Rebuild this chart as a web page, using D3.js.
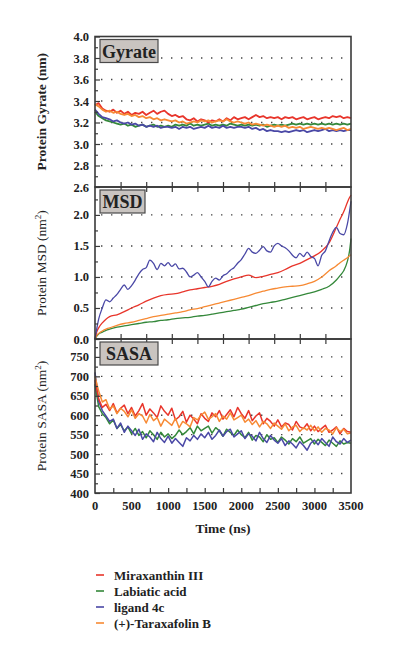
<!DOCTYPE html>
<html>
<head>
<meta charset="utf-8">
<script src="https://cdn.jsdelivr.net/npm/d3@7"></script>
<style>
  body { margin: 0; background: #fff; }
  svg text { font-family: "Liberation Serif", "DejaVu Serif", serif; fill: #222; }
</style>
</head>
<body>
<svg id="chart" width="395" height="660"></svg>
<script>
// time axis (ns), one point every 50 ns
var timeNs = [0,50,100,150,200,250,300,350,400,450,
  500,550,600,650,700,750,800,850,900,950,
  1000,1050,1100,1150,1200,1250,1300,1350,1400,1450,
  1500,1550,1600,1650,1700,1750,1800,1850,1900,1950,
  2000,2050,2100,2150,2200,2250,2300,2350,2400,2450,
  2500,2550,2600,2650,2700,2750,2800,2850,2900,2950,
  3000,3050,3100,3150,3200,3250,3300,3350,3400,3450,
  3500];
// sparser time axis for the smooth MSD curves
var msdTime = [0,20,50,100,150,200,300,400,500,600,700,800,900,1000,1100,1200,1300,1400,1500,
  1600,1700,1800,1900,2000,2100,2200,2300,2400,2500,2600,2700,2800,2900,3000,3100,3200,3300,
  3350,3400,3450,3480,3500];

var ligands = ["Miraxanthin III", "Labiatic acid", "ligand 4c", "(+)-Taraxafolin B"];
var colors = ["#e8352b", "#34883a", "#4a48a6", "#f78a34"];

// radius of gyration (nm)
var gyrRed = [3.36,3.38,3.33,3.31,3.30,3.32,3.29,3.31,3.28,3.30,
  3.27,3.29,3.28,3.30,3.27,3.29,3.31,3.28,3.30,3.31,
  3.28,3.26,3.27,3.25,3.26,3.23,3.22,3.24,3.21,3.23,
  3.22,3.20,3.22,3.21,3.23,3.21,3.24,3.22,3.25,3.23,
  3.24,3.25,3.23,3.25,3.27,3.25,3.26,3.24,3.25,3.24,
  3.25,3.23,3.25,3.24,3.25,3.23,3.24,3.25,3.23,3.24,
  3.25,3.23,3.24,3.25,3.24,3.26,3.25,3.26,3.24,3.25,
  3.24];
var gyrGreen = [3.30,3.26,3.24,3.22,3.21,3.20,3.19,3.18,3.19,3.17,
  3.18,3.16,3.17,3.18,3.16,3.17,3.18,3.16,3.17,3.16,
  3.17,3.16,3.18,3.17,3.18,3.17,3.19,3.17,3.18,3.17,
  3.18,3.19,3.17,3.18,3.17,3.18,3.17,3.19,3.18,3.17,
  3.18,3.17,3.18,3.17,3.18,3.17,3.18,3.16,3.17,3.18,
  3.17,3.18,3.17,3.18,3.19,3.18,3.19,3.18,3.19,3.18,
  3.19,3.18,3.19,3.18,3.19,3.18,3.19,3.18,3.19,3.18,
  3.19];
var gyrBlue = [3.32,3.28,3.25,3.24,3.23,3.21,3.22,3.20,3.19,3.20,
  3.18,3.19,3.17,3.18,3.16,3.17,3.16,3.17,3.15,3.16,
  3.16,3.15,3.16,3.14,3.16,3.15,3.16,3.14,3.15,3.16,
  3.15,3.17,3.15,3.16,3.15,3.17,3.15,3.16,3.15,3.16,
  3.16,3.15,3.16,3.14,3.15,3.13,3.14,3.12,3.13,3.12,
  3.12,3.11,3.12,3.11,3.12,3.13,3.12,3.13,3.11,3.12,
  3.13,3.12,3.13,3.14,3.12,3.13,3.12,3.13,3.12,3.13,
  3.13];
var gyrOrange = [3.37,3.35,3.32,3.30,3.31,3.29,3.30,3.28,3.27,3.28,
  3.26,3.27,3.25,3.26,3.24,3.25,3.23,3.24,3.22,3.23,
  3.22,3.21,3.22,3.20,3.21,3.19,3.20,3.21,3.20,3.22,
  3.21,3.22,3.20,3.21,3.22,3.21,3.23,3.21,3.20,3.21,
  3.20,3.19,3.20,3.18,3.19,3.18,3.17,3.18,3.17,3.16,
  3.17,3.16,3.17,3.15,3.16,3.15,3.16,3.14,3.15,3.16,
  3.15,3.14,3.15,3.14,3.15,3.14,3.13,3.14,3.15,3.13,
  3.14];

// MSD (nm^2)
var msdRed = [0,0.10,0.18,0.26,0.32,0.36,0.39,0.44,0.50,0.55,0.61,0.66,0.70,0.72,0.73,0.76,0.79,0.81,0.83,
  0.85,0.88,0.93,0.97,1.00,1.03,0.99,1.01,1.04,1.07,1.12,1.18,1.22,1.28,1.34,1.42,1.55,1.80,
  1.93,2.05,2.20,2.28,2.32];
var msdGreen = [0,0.04,0.08,0.11,0.14,0.16,0.19,0.21,0.23,0.25,0.27,0.28,0.30,0.31,0.33,0.34,0.35,0.37,0.38,
  0.40,0.42,0.44,0.46,0.48,0.51,0.54,0.57,0.59,0.61,0.64,0.67,0.70,0.73,0.76,0.80,0.85,0.95,
  1.02,1.10,1.25,1.42,1.62];
var msdOrange = [0,0.05,0.09,0.13,0.16,0.18,0.22,0.25,0.27,0.30,0.33,0.36,0.38,0.40,0.42,0.44,0.47,0.49,0.52,
  0.55,0.58,0.61,0.64,0.67,0.70,0.74,0.77,0.80,0.82,0.84,0.85,0.86,0.89,0.93,1.00,1.10,1.18,
  1.23,1.27,1.31,1.34,1.36];
var msdBlue = [0,0.32,0.50,0.63,0.60,0.66,0.72,0.80,0.87,0.80,
  0.86,0.95,1.05,1.12,1.15,1.27,1.22,1.12,1.22,1.18,
  1.23,1.17,1.21,1.13,1.14,1.08,1.00,1.03,1.07,1.00,
  0.93,0.84,0.93,0.98,0.95,1.02,1.05,1.11,1.15,1.22,
  1.28,1.37,1.46,1.40,1.38,1.43,1.49,1.42,1.40,1.50,
  1.54,1.50,1.47,1.42,1.35,1.31,1.38,1.33,1.40,1.33,
  1.30,1.18,1.35,1.42,1.58,1.72,1.80,1.70,1.68,1.85,
  2.22];

// SASA (nm^2)
var sasaRed = [690,642,620,628,612,630,606,618,626,604,
  620,598,612,630,600,616,606,594,624,610,
  600,618,588,596,610,582,600,590,578,604,
  592,584,606,596,612,590,602,614,596,620,
  604,592,612,586,598,606,578,592,584,572,
  588,570,580,576,562,584,570,566,578,560,
  572,558,566,574,556,562,570,552,566,558,
  556];
var sasaGreen = [680,622,604,594,578,588,566,576,560,570,
  552,566,548,558,542,560,550,538,556,544,
  552,540,548,562,550,558,568,552,572,560,
  566,572,554,568,560,546,564,556,548,562,
  550,542,556,536,548,544,532,550,538,542,
  530,544,536,526,540,532,544,528,534,540,
  526,538,530,522,536,528,520,534,526,530,
  528];
var sasaBlue = [710,636,612,598,584,590,566,580,556,572,
  560,548,564,538,552,544,532,556,540,530,
  546,528,540,530,520,542,534,548,538,552,
  542,556,538,548,562,546,558,564,544,552,
  560,540,552,546,534,556,540,530,548,536,
  528,540,522,534,526,516,532,522,510,528,
  536,524,540,530,520,544,532,526,540,530,
  536];
var sasaOrange = [700,662,634,640,616,624,604,618,610,596,
  614,592,604,598,580,602,586,594,572,590,
  582,574,592,568,584,578,570,594,588,600,
  608,590,596,604,584,598,590,606,588,594,
  600,582,590,576,586,570,584,578,566,580,
  572,564,578,560,570,574,558,568,562,574,
  560,570,556,566,562,552,568,558,564,552,
  554];

var xTicksMain = [0,500,1000,1500,2000,2500,3000,3500];

var svg = d3.select("#chart");
var left = 95, right = 351;

var x = d3.scaleLinear().domain([0, 3500]).range([left, right]);

var frameColor = "#3a3a3a";

// draw one of the three stacked panels
function drawPanel(p) {
    var y = d3.scaleLinear().domain(p.domain).range([p.bottom, p.top]);
    var g = svg.append("g");

    // dotted grid at labelled ticks
    g.selectAll(".grid")
        .data(p.grid)
        .enter().append("line")
        .attr("x1", left + 6).attr("x2", right)
        .attr("y1", function(d) { return y(d); })
        .attr("y2", function(d) { return y(d); })
        .attr("stroke", "#444")
        .attr("stroke-width", 1.4)
        .attr("stroke-dasharray", "1.4,8.6");

    // series
    var line = d3.line()
        .x(function(d) { return x(d[0]); })
        .y(function(d) { return y(d[1]); })
        .curve(p.curve || d3.curveLinear);

    p.series.forEach(function(s) {
        var pts = s.values.map(function(v, i) { return [s.time[i], v]; });
        g.append("path")
            .datum(pts)
            .attr("fill", "none")
            .attr("stroke", colors[s.c])
            .attr("stroke-width", p.lw)
            .attr("stroke-linejoin", "round")
            .attr("d", line);
    });

    // y axis, ticks inward
    var yAxis = d3.axisLeft(y).tickValues(p.labels).tickSize(-5).tickPadding(6)
        .tickFormat(p.fmt);
    var ya = g.append("g").attr("transform", "translate(" + left + ",0)").call(yAxis);
    ya.select(".domain").remove();
    ya.selectAll("line").attr("stroke", frameColor).attr("stroke-width", 1.2);
    ya.selectAll("text").style("font-size", "12.5px").style("font-weight", "bold")
        .attr("fill", "#222");
    var ym = d3.axisLeft(y).tickValues(p.minor).tickSize(-3).tickFormat("");
    var yma = g.append("g").attr("transform", "translate(" + left + ",0)").call(ym);
    yma.select(".domain").remove();
    yma.selectAll("line").attr("stroke", frameColor).attr("stroke-width", 1.2);

    // x ticks along bottom and top edges
    var xb = g.append("g").attr("transform", "translate(0," + p.bottom + ")")
        .call(d3.axisBottom(x).tickValues(p.xticks).tickSize(-5).tickFormat(""));
    xb.select(".domain").remove();
    xb.selectAll("line").attr("stroke", frameColor).attr("stroke-width", 1.2);
    if (p.topTicks) {
        var xt = g.append("g").attr("transform", "translate(0," + p.top + ")")
            .call(d3.axisTop(x).tickValues(p.topTicks).tickSize(-5).tickFormat(""));
        xt.select(".domain").remove();
        xt.selectAll("line").attr("stroke", frameColor).attr("stroke-width", 1.2);
    }

    // frame
    g.append("rect")
        .attr("x", left).attr("y", p.top)
        .attr("width", right - left).attr("height", p.bottom - p.top)
        .attr("fill", "none").attr("stroke", frameColor).attr("stroke-width", 1.6);

    // name box
    g.append("rect")
        .attr("x", left + 5).attr("y", p.top + 3)
        .attr("width", p.boxW).attr("height", 23)
        .attr("fill", "#c9c4c0").attr("stroke", "#4a4a4a").attr("stroke-width", 1.2);
    g.append("text")
        .attr("x", left + 5 + p.boxW / 2).attr("y", p.top + 21)
        .attr("text-anchor", "middle")
        .style("font-size", "18px").style("font-weight", "bold")
        .text(p.name);

    // y title
    var t = g.append("text")
        .attr("transform", "translate(46," + ((p.top + p.bottom) / 2) + ") rotate(-90)")
        .attr("text-anchor", "middle")
        .style("font-size", "13.5px")
        .style("font-weight", p.boldTitle ? "bold" : "normal");
    t.append("tspan").text(p.title);
    if (p.sup) {
        t.append("tspan").text("(nm");
        t.append("tspan").attr("dy", -5).style("font-size", "9px").text("2");
        t.append("tspan").attr("dy", 5).text(")");
    }
}

var tick350 = [350,700,1050,1400,1750,2100,2450,2800,3150];
var tick250 = [250,500,750,1000,1250,1500,1750,2000,2250,2500,2750,3000,3250];

drawPanel({
    name: "Gyrate", boxW: 58, top: 36.5, bottom: 187, domain: [2.6, 4.0],
    labels: [2.6,2.8,3.0,3.2,3.4,3.6,3.8,4.0], grid: [2.8,3.0,3.2,3.4,3.6,3.8],
    minor: [2.7,2.9,3.1,3.3,3.5,3.7,3.9], fmt: d3.format(".1f"),
    xticks: tick350, lw: 1.8, boldTitle: true, title: "Protein Gyrate (nm)",
    series: [
        {c: 1, time: timeNs, values: gyrGreen},
        {c: 2, time: timeNs, values: gyrBlue},
        {c: 0, time: timeNs, values: gyrRed},
        {c: 3, time: timeNs, values: gyrOrange}
    ]
});

drawPanel({
    name: "MSD", boxW: 45, top: 187, bottom: 339, domain: [0, 2.45],
    labels: [0,0.5,1.0,1.5,2.0], grid: [0.5,1.0,1.5,2.0],
    minor: [0.25,0.75,1.25,1.75,2.25], fmt: d3.format(".1f"),
    xticks: tick350, topTicks: tick350, lw: 1.3, curve: d3.curveMonotoneX,
    title: "Protein MSD ", sup: true,
    series: [
        {c: 1, time: msdTime, values: msdGreen},
        {c: 3, time: msdTime, values: msdOrange},
        {c: 0, time: msdTime, values: msdRed},
        {c: 2, time: timeNs, values: msdBlue}
    ]
});

drawPanel({
    name: "SASA", boxW: 58, top: 339, bottom: 493, domain: [400, 796],
    labels: [400,450,500,550,600,650,700,750], grid: [450,500,550,600,650,700,750],
    minor: [425,475,525,575,625,675,725,775], fmt: d3.format("d"),
    xticks: tick250, topTicks: tick350, lw: 1.5,
    title: "Protein SASA ", sup: true,
    series: [
        {c: 1, time: timeNs, values: sasaGreen},
        {c: 2, time: timeNs, values: sasaBlue},
        {c: 0, time: timeNs, values: sasaRed},
        {c: 3, time: timeNs, values: sasaOrange}
    ]
});

// x tick labels under the bottom panel
svg.append("g").selectAll("text")
    .data(xTicksMain)
    .enter().append("text")
    .attr("x", function(d) { return x(d); })
    .attr("y", 510)
    .attr("text-anchor", "middle")
    .style("font-size", "12.5px").style("font-weight", "bold")
    .text(function(d) { return d; });

svg.append("text")
    .attr("x", 223).attr("y", 533)
    .attr("text-anchor", "middle")
    .style("font-size", "13.5px").style("font-weight", "bold")
    .text("Time (ns)");

// legend
var leg = svg.append("g").selectAll("g")
    .data(ligands)
    .enter().append("g")
    .attr("transform", function(d, i) { return "translate(96," + (575 + i * 16) + ")"; });
leg.append("line")
    .attr("x1", 0).attr("x2", 8)
    .attr("stroke", function(d, i) { return colors[i]; })
    .attr("stroke-width", 1.6);
leg.append("text")
    .attr("x", 18).attr("y", 4.5)
    .style("font-size", "13px").style("font-weight", "bold")
    .text(function(d) { return d; });
</script>
</body>
</html>
